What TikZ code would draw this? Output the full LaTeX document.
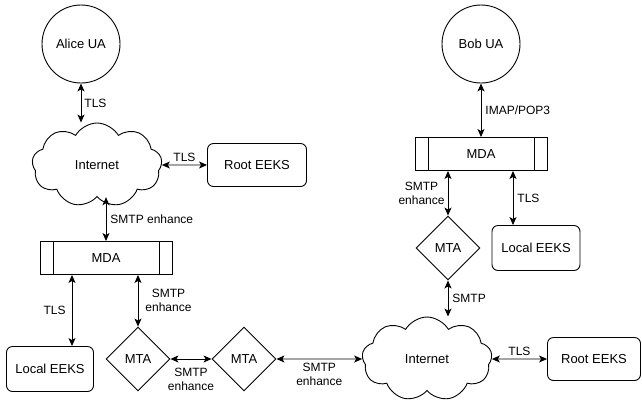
\documentclass[tikz,border=0pt]{standalone}
\usepackage{fontspec}
\setmainfont{Liberation Sans}
\usetikzlibrary{arrows.meta,positioning,shapes.geometric,shapes.symbols}

\begin{document}
\begin{tikzpicture}[ua/.style={circle,draw,minimum size=78pt,inner sep=0pt},
    net/.style={cloud,draw,cloud puffs=9,cloud puff arc=120,cloud ignores aspect,minimum width=130pt,minimum height=84pt,inner sep=0pt},
    eeks/.style={rectangle,draw,rounded corners=6pt,minimum height=43pt,inner sep=0pt},
    mda/.style={rectangle,draw,minimum width=132pt,minimum height=33pt,inner sep=0pt,
        path picture={\draw ([xshift=13pt]path picture bounding box.north west) -- ([xshift=13pt]path picture bounding box.south west)
            ([xshift=-13pt]path picture bounding box.north east) -- ([xshift=-13pt]path picture bounding box.south east);}},
    mta/.style={diamond,draw,aspect=1,minimum size=64pt,inner sep=0pt},
    lbl/.style={font=\fontsize{12}{14}\selectfont,align=center,inner sep=1pt},
    every node/.append style={font=\fontsize{13}{15}\selectfont},
    on grid,line width=0.9pt,>={Stealth[length=8pt,width=7pt,inset=2pt]}]
    \useasboundingbox (0pt,0pt) rectangle (642pt,-400pt);
    \node(alice)[ua] at (81pt,-44pt) {Alice UA};
    \node(net1)[net,below right=121pt and 16pt of alice] {Internet};
    \node(root1)[eeks,minimum width=99pt,right=160pt of net1] {Root EEKS};
    \node(mda1)[mda,below right=93pt and 9pt of net1] {MDA};
    \node(local1)[eeks,minimum width=87pt,minimum height=45pt,below left=111pt and 56pt of mda1] {Local EEKS};
    \node(mta1)[mta,below right=101pt and 32pt of mda1] {MTA};
    \node(mta2)[mta,right=106pt of mta1] {MTA};
    \node(net2)[net,right=183pt of mta2] {Internet};
    \node(root2)[eeks,minimum width=93pt,right=167pt of net2] {Root EEKS};
    \node(mta3)[mta,above right=111pt and 21pt of net2] {MTA};
    \node(local2)[eeks,minimum width=88pt,minimum height=45pt,right=88pt of mta3] {Local EEKS};
    \node(mda2)[mda,above right=94pt and 33pt of mta3] {MDA};
    \node(bob)[ua,above=110pt of mda2] {Bob UA};
    \draw[<->] (alice.south) -- (alice.south |- net1.north) node[lbl,midway,right=2pt]{TLS};
    \draw[<->] (net1.east) -- (root1.west) node[lbl,midway,above=2pt]{TLS};
    \draw[<->] (mda1.north |- net1.south) -- (mda1.north) node[lbl,midway,right=3pt]{SMTP enhance};
    \draw[<->] ([xshift=-34pt]mda1.south) -- ([xshift=-34pt]mda1.south |- local1.north) node[lbl,midway,left=5pt]{TLS};
    \draw[<->] (mta1.north |- mda1.south) -- (mta1.north) node[lbl,midway,right=6pt]{SMTP\\enhance};
    \draw[<->] (mta1.east) -- (mta2.west) node[lbl,midway,below=8pt]{SMTP\\enhance};
    \draw[<->] (mta2.east) -- (net2.west) node[lbl,midway,below=3pt]{SMTP\\enhance};
    \draw[<->] (mta3.south) -- (mta3.south |- net2.north) node[lbl,midway,right=3pt]{SMTP};
    \draw[<->] (net2.east) -- (root2.west) node[lbl,midway,above=2pt]{TLS};
    \draw[<->] (bob.south) -- (mda2.north) node[lbl,midway,right=3pt]{IMAP/POP3};
    \draw[<->] (mda2.south -| mta3.north) -- (mta3.north) node[lbl,midway,left=2pt]{SMTP\\enhance};
    \draw[<->] ([xshift=32pt]mda2.south) -- ([xshift=32pt]mda2.south |- local2.north) node[lbl,midway,right=3pt]{TLS};
\end{tikzpicture}
\end{document}
